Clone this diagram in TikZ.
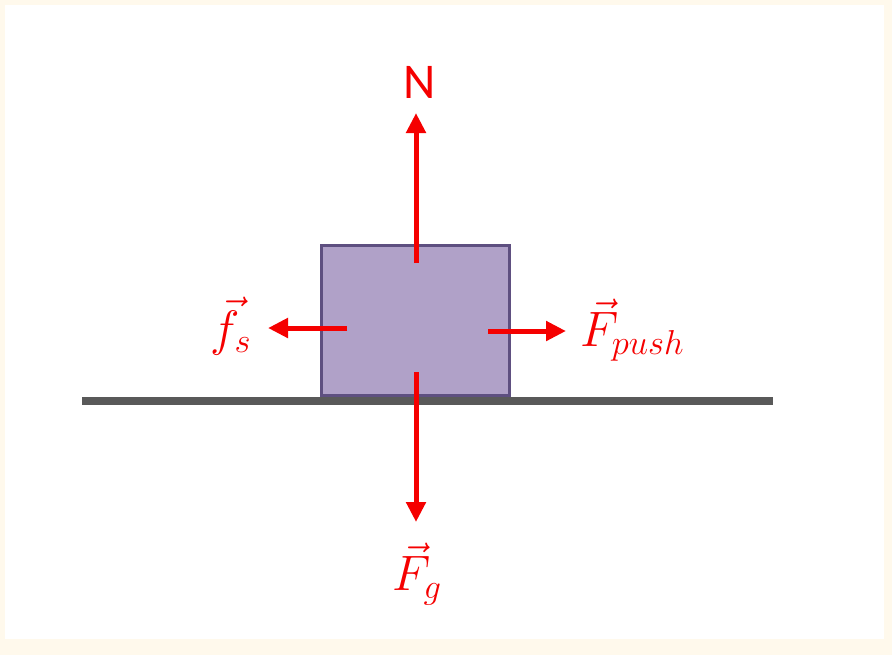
\documentclass[tikz,border=0pt]{standalone}
\usepackage{fontspec}
\newfontfamily\labelfont{Carlito}
\usetikzlibrary{arrows.meta, positioning}
\definecolor{forcered}{HTML}{F50000}
\definecolor{blockfill}{HTML}{B0A1C8}
\definecolor{blockdraw}{HTML}{5E4F80}
\definecolor{groundgray}{HTML}{595959}
\definecolor{paper}{HTML}{FFF9EC}

\begin{document}
\begin{tikzpicture}[x=0.5pt, y=-0.5pt,
            force/.style={draw = forcered, line width = 2.5pt, -{Triangle[width=9.5pt, length=10pt]}},
            vlabel/.style={text = forcered, font = \fontsize{25}{28}\selectfont, inner sep = 0pt}]
        \fill[paper] (0,0) rectangle (892,655);
        \fill[white] (5,5) rectangle (884,639);
        \useasboundingbox (0,0) rectangle (892,655);
        % ground and block
        \coordinate (groundL) at (82,401);
        \coordinate (groundR) at (773,401);
        \draw[groundgray, line width = 4pt] (groundL) -- (groundR);
        \node[draw = blockdraw, fill = blockfill, line width = 1.5pt, minimum width = 94pt, minimum height = 75pt, inner sep = 0pt] (block) at (415.5,320) {};
        % force arrows
        \coordinate (nStart) at (416,263);
        \coordinate (nTip) at (416,113);
        \coordinate (gStart) at (416,372);
        \coordinate (gTip) at (416,522);
        \coordinate (sStart) at (347,328);
        \coordinate (sTip) at (268,328);
        \coordinate (pStart) at (488,331);
        \coordinate (pTip) at (566,331);
        \draw[force] (nStart) -- (nTip);
        \draw[force] (gStart) -- (gTip);
        \draw[force] (sStart) -- (sTip);
        \draw[force] (pStart) -- (pTip);
        % labels
        \node[vlabel, font = \labelfont\fontsize{25}{28}\selectfont] (nLabel) at (420,82) {N};
        \node[vlabel] (gLabel) at (417,574) {$\vec{F}_g$};
        \node[vlabel] (sLabel) at (231,326) {$\vec{f}_s$};
        \node[vlabel, anchor = west] (pLabel) at (580,330) {$\vec{F}_{push}$};
    \end{tikzpicture}
\end{document}
